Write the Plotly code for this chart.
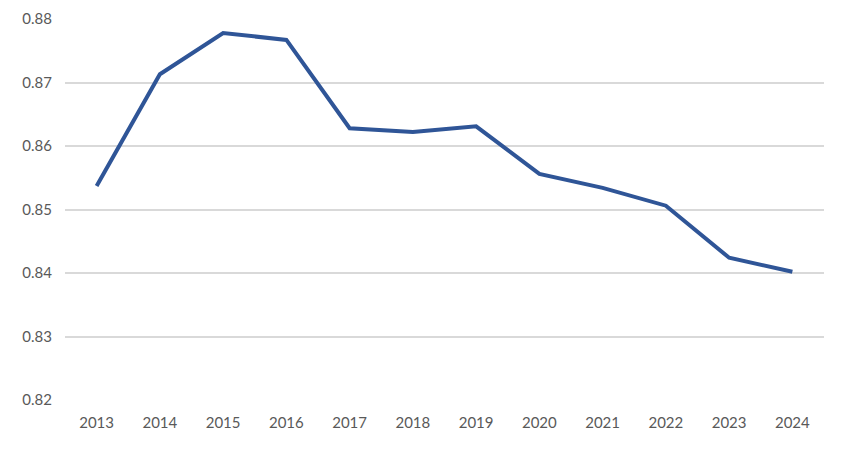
import plotly.graph_objects as go

years = ["2013", "2014", "2015", "2016", "2017", "2018", "2019", "2020", "2021", "2022", "2023", "2024"]
values = [0.8537, 0.8713, 0.8778, 0.8767, 0.8628, 0.8622, 0.8631, 0.8556, 0.8534, 0.8506, 0.8424, 0.8402]
y_ticks = [0.82, 0.83, 0.84, 0.85, 0.86, 0.87, 0.88]

fig = go.Figure()
fig.add_trace(go.Scatter(
    x=years, y=values, mode="lines",
    line=dict(color="#2F5597", width=4),
    hoverinfo="x+y",
))

font = dict(family="Lato, 'Open Sans', sans-serif", size=15, color="#595959")
fig.update_layout(
    width=845, height=459,
    margin=dict(l=57, r=29, t=11, b=67, autoexpand=False),
    paper_bgcolor="white", plot_bgcolor="white",
    showlegend=False,
    font=font,
    xaxis=dict(type="category", range=[-0.5, len(years) - 0.5], showgrid=False,
               showline=False, zeroline=False, automargin=False,
               ticks="", ticklabelstandoff=12, tickfont=font),
    yaxis=dict(range=[0.82, 0.88], tickvals=y_ticks, ticktext=[f"{v:.2f}" for v in y_ticks],
               showgrid=True, gridcolor="#D9D9D9", gridwidth=1.5, zeroline=False,
               showline=False, ticks="", ticklabelstandoff=12, automargin=False,
               tickfont=font),
)

fig.write_html("out.html")
